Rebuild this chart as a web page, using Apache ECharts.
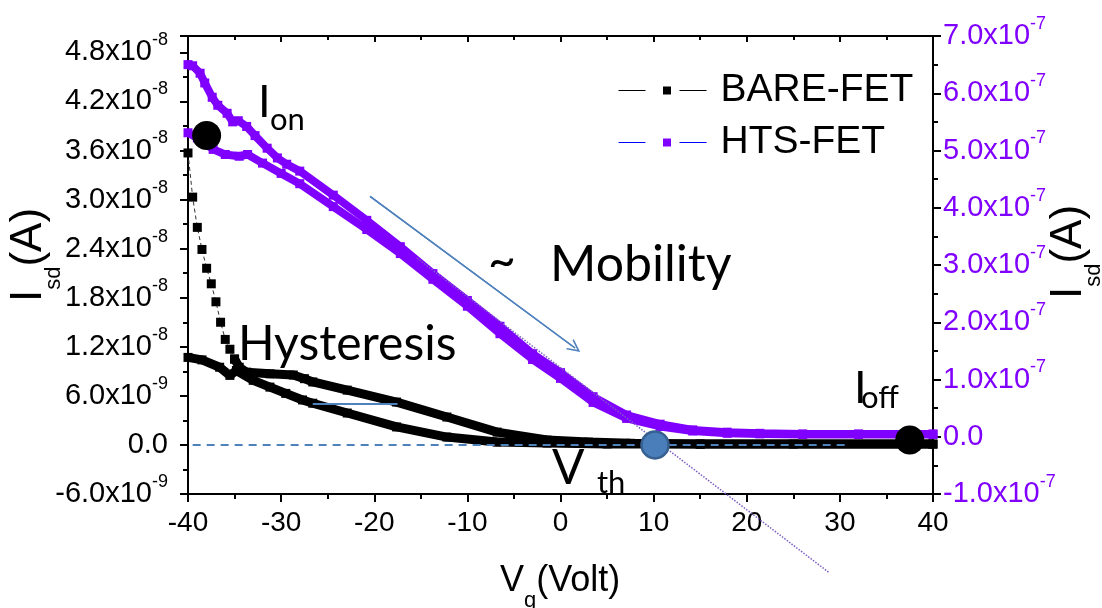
<!DOCTYPE html>
<html style="height: 100%;width:100%">
<head>
    <meta charset="utf-8">
    <style>
        html, body {
            margin: 0;
            padding: 0;
            width: 100%;
            height: 100%;
            background: #fff;
        }
        #chart-panel {
            width: 1102px;
            height: 608px;
        }
    </style>
</head>
<body>
    <div id="chart-panel"></div>
    <script type="text/javascript" src="https://cdn.jsdelivr.net/npm/echarts@6/dist/echarts.min.js"></script>
    <script type="text/javascript">
        // BARE-FET (left axis, A)
        var vgBareSteep = [-40, -39.5, -39, -38.5, -38, -37.5, -37, -36.5, -36, -35.5, -35];
        var isdBareSteep = [35.7e-9, 30.3e-9, 26.6e-9, 23.9e-9, 21.6e-9, 19.7e-9, 17.5e-9, 15.0e-9, 12.9e-9, 11.7e-9, 10.5e-9];

        var vgBareUp = [-35, -34.5, -33.7, -31.2, -28.7, -27.5, -26.6, -22.9, -17.6, -12.2, -6.8, -1.45, 3, 7.5, 15, 25, 40];
        var isdBareUp = [10.5e-9, 9.5e-9, 8.9e-9, 8.7e-9, 8.55e-9, 8.1e-9, 7.7e-9, 6.7e-9, 5.24e-9, 3.41e-9, 1.57e-9, 0.6e-9, 0.35e-9, 0.2e-9, 0.1e-9, 0.1e-9, 0.1e-9];

        var vgBareDown = [-40, -38.5, -36.6, -35.5, -34.8, -33, -31.2, -29.5, -27.7, -26.6, -22.9, -17.6, -12.2, -6.8, -1.45, 5, 15, 40];
        var isdBareDown = [10.7e-9, 10.4e-9, 9.5e-9, 8.5e-9, 9.1e-9, 7.9e-9, 7.07e-9, 6.3e-9, 5.5e-9, 5.1e-9, 3.9e-9, 2.2e-9, 0.96e-9, 0.35e-9, 0.23e-9, 0.12e-9, 0.1e-9, 0.1e-9];

        // HTS-FET (right axis, A)
        var vgHtsUp = [-40, -39.5, -38.7, -38.2, -37.4, -36.8, -35.8, -35.2, -34.6, -33.7, -32.8, -31.5, -30.4, -29.4, -28, -24.4, -20.8, -17.2, -13.7, -10, -6.5, -3, 0, 3.5, 7.1, 10.7, 14.2, 17.9, 21.4, 26, 32, 40];
        var isdHtsUp = [6.50e-7, 6.48e-7, 6.35e-7, 6.18e-7, 5.93e-7, 5.79e-7, 5.65e-7, 5.50e-7, 5.52e-7, 5.42e-7, 5.26e-7, 5.04e-7, 4.87e-7, 4.76e-7, 4.64e-7, 4.22e-7, 3.78e-7, 3.32e-7, 2.85e-7, 2.38e-7, 1.93e-7, 1.45e-7, 1.12e-7, 0.70e-7, 0.38e-7, 0.22e-7, 0.12e-7, 0.08e-7, 0.06e-7, 0.05e-7, 0.05e-7, 0.05e-7];

        var vgHtsDown = [-40, -39, -37.3, -36, -34.5, -33.6, -32, -30, -28, -24.4, -20.8, -17.2, -13.7, -10, -6.5, -3, 0, 3.5, 7.1, 10.7, 14.2, 17.9, 21.4, 26, 32, 40];
        var isdHtsDown = [5.31e-7, 5.22e-7, 5.02e-7, 4.93e-7, 4.90e-7, 4.93e-7, 4.78e-7, 4.60e-7, 4.42e-7, 4.02e-7, 3.62e-7, 3.20e-7, 2.75e-7, 2.28e-7, 1.80e-7, 1.35e-7, 1.02e-7, 0.60e-7, 0.32e-7, 0.18e-7, 0.10e-7, 0.06e-7, 0.05e-7, 0.04e-7, 0.04e-7, 0.04e-7];

        // annotations (data coordinates)
        var vgTangent = [-15.4, 28.9];
        var isdTangent = [3.12e-7, -2.38e-7];
        var vgArrow = [-20.45, 1.56];
        var isdArrow = [4.2e-7, 1.55e-7];
        var vgZeroLine = [-39.5, 31.1];
        var isdZeroLine = [0, 0];
        var vgHystBar = [-26.6, -17.5];
        var isdHystBar = [5.0e-9, 5.0e-9];
        var ionPoint = [-38, 5.26e-7];
        var ioffPoint = [37.5, 0.6e-9];
        var vthPoint = [10.15, 0];

        var FONT = 'Liberation Sans';
        var NOTE_FONT = 'Lato';
        var PURPLE = '#8000ff';
        var STEEL = '#4f81bd';

        function pairs (xs, ys) {
            return xs.map(function (x, i) { return [x, ys[i]]; });
        }

        function fmtLeft (v) {
            var n = Math.round(v / 6e-9);
            if (Math.abs(v - n * 6e-9) > 1e-12) return '';
            var nA = n * 6;
            if (nA === 0) return '{m|0.0}';
            if (Math.abs(nA) < 10) return '{m|' + nA.toFixed(1) + 'x10}{s|-9}';
            return '{m|' + (nA / 10).toFixed(1) + 'x10}{s|-8}';
        }

        function fmtRight (v) {
            var n = Math.round(v / 1e-7);
            if (n === 0) return '{m|0.0}';
            return '{m|' + n.toFixed(1) + 'x10}{s|-7}';
        }

        function richFor (color) {
            return {
                m: { fontSize: 29, fontFamily: FONT, color: color },
                s: { fontSize: 18, fontFamily: FONT, color: color, padding: [0, 0, 24, 0] }
            };
        }

        var dom = document.getElementById('chart-panel');
        var myChart = echarts.init(dom);

        var tickLine = { color: '#000', width: 2 };
        // open chevron used as arrow head
        var chevron = 'path://M0,10 L5,0 L10,10 L8.6,10 L5,2.8 L1.4,10 Z';

        var option = {
            animation: false,
            backgroundColor: '#fff',
            grid: { left: 188, right: 169, top: 36, bottom: 114 },
            legend: {
                orient: 'vertical',
                left: 618,
                top: 71,
                padding: 0,
                itemWidth: 97,
                itemHeight: 10,
                itemGap: 13,
                selectedMode: false,
                textStyle: { fontFamily: FONT, fontSize: 39, color: '#000' },
                data: [
                    {
                        name: 'BARE-FET',
                        itemStyle: { color: '#000' },
                        lineStyle: { color: '#000', width: 1, type: [27, 34, 27, 100] }
                    },
                    {
                        name: 'HTS-FET',
                        itemStyle: { color: PURPLE },
                        lineStyle: { color: '#0000ff', width: 1, type: [27, 34, 27, 100] }
                    }
                ]
            },
            xAxis: [
                {
                    type: 'value',
                    min: -40,
                    max: 40,
                    interval: 10,
                    axisLine: { show: true, onZero: false, lineStyle: tickLine },
                    axisTick: { show: true, length: 8, lineStyle: tickLine },
                    minorTick: { show: true, splitNumber: 2, length: 5, lineStyle: tickLine },
                    splitLine: { show: false },
                    axisLabel: { fontFamily: FONT, fontSize: 28, color: '#000', margin: 15 }
                },
                {
                    type: 'value',
                    position: 'top',
                    min: -40,
                    max: 40,
                    interval: 10,
                    axisLine: { show: true, onZero: false, lineStyle: tickLine },
                    axisTick: { show: true, inside: true, length: 6, lineStyle: tickLine },
                    minorTick: { show: true, splitNumber: 2, length: 4, lineStyle: tickLine },
                    splitLine: { show: false },
                    axisLabel: { show: false }
                }
            ],
            yAxis: [
                {
                    type: 'value',
                    min: -6e-9,
                    max: 5e-8,
                    interval: 6e-9,
                    axisLine: { show: true, onZero: false, lineStyle: tickLine },
                    axisTick: { show: true, length: 8, lineStyle: tickLine },
                    minorTick: { show: true, splitNumber: 2, length: 5, lineStyle: tickLine },
                    splitLine: { show: false },
                    axisLabel: { formatter: fmtLeft, margin: 20, rich: richFor('#000') }
                },
                {
                    type: 'value',
                    position: 'right',
                    min: -1e-7,
                    max: 7e-7,
                    interval: 1e-7,
                    axisLine: { show: true, onZero: false, lineStyle: tickLine },
                    axisTick: { show: true, length: 8, lineStyle: tickLine },
                    minorTick: { show: true, splitNumber: 2, length: 5, lineStyle: tickLine },
                    splitLine: { show: false },
                    axisLabel: { formatter: fmtRight, margin: 10, rich: richFor(PURPLE) }
                }
            ],
            series: [
                {
                    name: 'HTS-FET',
                    type: 'line',
                    yAxisIndex: 1,
                    data: pairs(vgHtsUp, isdHtsUp),
                    symbol: 'rect',
                    symbolSize: 9,
                    itemStyle: { color: PURPLE },
                    lineStyle: { color: PURPLE, width: 8 },
                    z: 2
                },
                {
                    name: 'HTS-FET',
                    type: 'line',
                    yAxisIndex: 1,
                    data: pairs(vgHtsDown, isdHtsDown),
                    symbol: 'rect',
                    symbolSize: 9,
                    itemStyle: { color: PURPLE },
                    lineStyle: { color: PURPLE, width: 8 },
                    z: 2
                },
                {
                    name: 'BARE-FET',
                    type: 'line',
                    data: pairs(vgBareSteep, isdBareSteep),
                    symbol: 'rect',
                    symbolSize: 9,
                    itemStyle: { color: '#000' },
                    lineStyle: { color: '#333', width: 1, type: [4, 3] },
                    z: 3
                },
                {
                    name: 'BARE-FET',
                    type: 'line',
                    data: pairs(vgBareUp, isdBareUp),
                    symbol: 'rect',
                    symbolSize: 9,
                    itemStyle: { color: '#000' },
                    lineStyle: { color: '#000', width: 9 },
                    z: 3
                },
                {
                    name: 'BARE-FET',
                    type: 'line',
                    data: pairs(vgBareDown, isdBareDown),
                    symbol: 'rect',
                    symbolSize: 9,
                    itemStyle: { color: '#000' },
                    lineStyle: { color: '#000', width: 9 },
                    z: 3
                },
                {
                    type: 'line',
                    data: pairs(vgZeroLine, isdZeroLine),
                    symbol: 'none',
                    silent: true,
                    lineStyle: { color: STEEL, width: 2, type: [8, 6] },
                    z: 4
                },
                {
                    type: 'line',
                    data: pairs(vgHystBar, isdHystBar),
                    symbol: 'none',
                    silent: true,
                    lineStyle: { color: STEEL, width: 2 },
                    z: 4
                },
                {
                    type: 'line',
                    yAxisIndex: 1,
                    data: pairs(vgTangent, isdTangent),
                    symbol: 'none',
                    silent: true,
                    clip: false,
                    lineStyle: { color: '#7b5cc4', width: 1.5, type: 'dotted' },
                    z: 4
                },
                {
                    type: 'line',
                    yAxisIndex: 1,
                    data: pairs(vgArrow, isdArrow),
                    symbol: ['none', chevron],
                    symbolSize: 13,
                    symbolRotate: 0,
                    showSymbol: false,
                    silent: true,
                    lineStyle: { color: STEEL, width: 1.5 },
                    z: 4,
                    markLine: {
                        silent: true,
                        symbol: ['none', chevron],
                        symbolSize: 13,
                        label: { show: false },
                        lineStyle: { color: STEEL, width: 1.5, type: 'solid' },
                        itemStyle: { color: STEEL },
                        data: [[
                            { coord: [vgArrow[0], isdArrow[0]] },
                            { coord: [vgArrow[1], isdArrow[1]] }
                        ]]
                    }
                },
                {
                    type: 'scatter',
                    yAxisIndex: 1,
                    data: [ionPoint],
                    symbol: 'circle',
                    symbolSize: 29,
                    itemStyle: { color: '#000', opacity: 1 },
                    z: 6
                },
                {
                    type: 'scatter',
                    data: [ioffPoint],
                    symbol: 'circle',
                    symbolSize: 29,
                    itemStyle: { color: '#000', opacity: 1 },
                    z: 6
                },
                {
                    type: 'scatter',
                    data: [vthPoint],
                    symbol: 'circle',
                    symbolSize: 27,
                    itemStyle: { color: '#4a7ebb', borderColor: '#375f8f', borderWidth: 2.5, opacity: 1 },
                    z: 6
                }
            ],
            graphic: [
                // axis titles
                {
                    type: 'text', x: 29, y: 255, rotation: Math.PI / 2,
                    style: {
                        text: '{a|I}{b|sd}{a|(A)}', align: 'center', verticalAlign: 'middle',
                        rich: {
                            a: { fontFamily: FONT, fontSize: 44, color: '#000' },
                            b: { fontFamily: FONT, fontSize: 22, color: '#000', padding: [50, 0, 0, 0] }
                        }
                    }
                },
                {
                    type: 'text', x: 1069, y: 252, rotation: Math.PI / 2,
                    style: {
                        text: '{a|I}{b|sd}{a|(A)}', align: 'center', verticalAlign: 'middle',
                        rich: {
                            a: { fontFamily: FONT, fontSize: 44, color: '#000' },
                            b: { fontFamily: FONT, fontSize: 22, color: '#000', padding: [50, 0, 0, 0] }
                        }
                    }
                },
                {
                    type: 'text', x: 500, y: 581,
                    style: {
                        text: '{a|V}{b|g}{a|(Volt)}', align: 'left', verticalAlign: 'middle',
                        rich: {
                            a: { fontFamily: FONT, fontSize: 36, color: '#000' },
                            b: { fontFamily: FONT, fontSize: 22, color: '#000', padding: [40, 0, 0, 0] }
                        }
                    }
                },
                // annotations
                { type: 'text', x: 258, y: 102, style: { text: 'I', font: '45px ' + NOTE_FONT, fill: '#000', align: 'left', verticalAlign: 'middle' } },
                { type: 'text', x: 270, y: 120, style: { text: 'on', font: '31px ' + NOTE_FONT, fill: '#000', align: 'left', verticalAlign: 'middle' } },
                { type: 'text', x: 238, y: 345, style: { text: 'Hysteresis', font: '48px ' + NOTE_FONT, fill: '#000', align: 'left', verticalAlign: 'middle' } },
                { type: 'text', x: 488, y: 262, style: { text: '~', font: '48px ' + NOTE_FONT, fill: '#000', align: 'left', verticalAlign: 'middle' } },
                { type: 'text', x: 550, y: 265, style: { text: 'Mobility', font: '50px ' + NOTE_FONT, fill: '#000', align: 'left', verticalAlign: 'middle' } },
                { type: 'text', x: 552, y: 469, style: { text: 'V', font: '48px ' + NOTE_FONT, fill: '#000', align: 'left', verticalAlign: 'middle' } },
                { type: 'text', x: 597, y: 483, style: { text: 'th', font: '31px ' + NOTE_FONT, fill: '#000', align: 'left', verticalAlign: 'middle' } },
                { type: 'text', x: 854, y: 388, style: { text: 'I', font: '45px ' + NOTE_FONT, fill: '#000', align: 'left', verticalAlign: 'middle' } },
                { type: 'text', x: 861, y: 398, style: { text: 'off', font: '31px ' + NOTE_FONT, fill: '#000', align: 'left', verticalAlign: 'middle' } }
            ]
        };

        myChart.setOption(option);
        window.addEventListener('resize', function () {
            myChart.resize();
        });
    </script>
</body>
</html>
